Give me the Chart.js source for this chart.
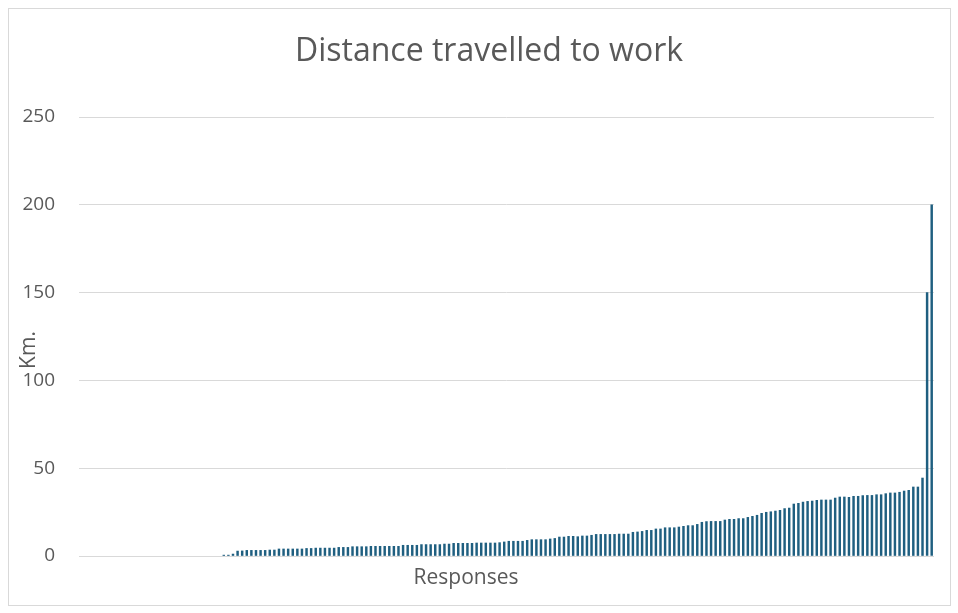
<!DOCTYPE html>
<html>
<head>
<meta charset="utf-8">
<script src="https://cdn.jsdelivr.net/npm/chart.js@4.4.1/dist/chart.umd.min.js"></script>
<style>
  html, body { margin: 0; padding: 0; background: #ffffff; }
  #wrap { width: 958px; height: 613px; position: relative; }
</style>
</head>
<body>
<div id="wrap"><canvas id="c" width="958" height="613"></canvas></div>
<script>
// Distance (km) reported by each respondent, sorted ascending
const zeroResponses = [0,0,0,0,0,0,0,0,0,0,0,0,0,0,0,0,0,0,0,0,0,0,0,0,0,0,0,0,0,0,0];
const distancesKm = [
  0.5, 0.5, 1.1, 2.8, 2.9, 3.2, 3.2, 3.2, 3.2, 3.2, 3.4, 3.4, 4.0, 4.0, 4.0, 4.0, 4.0, 4.0, 4.3, 4.3, 4.5, 4.5, 4.5, 4.5, 4.5,
  4.9, 4.9, 4.9, 5.3, 5.3, 5.3, 5.3, 5.5, 5.5, 5.5, 5.5, 5.5, 5.5, 5.5, 6.1, 6.1, 6.1, 6.1, 6.5, 6.5, 6.5, 6.5, 6.5, 6.8, 6.8, 7.2,
  7.2, 7.2, 7.2, 7.2, 7.4, 7.4, 7.4, 7.4, 7.4, 7.6, 8.0, 8.4, 8.4, 8.4, 8.4, 8.9, 9.3, 9.3, 9.3, 9.3, 9.7, 10.0, 10.8, 10.8, 11.2, 11.2,
  11.0, 11.4, 11.4, 11.8, 12.3, 12.3, 12.3, 12.3, 12.3, 12.5, 12.5, 12.5, 13.5, 13.7, 14.0, 14.6, 14.6, 15.4, 15.4, 16.1, 16.1, 16.1, 16.5, 16.9, 17.3,
  17.3, 18.0, 19.2, 19.6, 19.7, 19.7, 19.7, 20.5, 20.9, 20.9, 21.3, 21.3, 22.0, 22.6, 23.2, 24.3, 24.9, 25.2, 25.6, 26.0, 27.0, 27.3, 29.6, 30.0, 30.7, 31.1,
  31.3, 31.7, 31.9, 31.9, 31.9, 33.0, 33.6, 33.6, 33.4, 34.0, 34.0, 34.4, 34.5, 34.5, 34.9, 34.9, 35.5, 35.9, 35.9, 36.3, 37.0, 37.4, 39.3, 39.3, 44.4, 150, 200
];
const values = zeroResponses.concat(distancesKm);
const responseLabels = values.map((_, i) => String(i + 1));
const yTicks = [0, 50, 100, 150, 200, 250];

const chartTitle = 'Distance travelled to work';
const xTitle = 'Responses';
const yTitle = 'Km.';

const textColor = '#595959';
const gridColor = '#d9d9d9';
const barColor = '#1f5f80';
const fontFamily = '"Open Sans", "DejaVu Sans", sans-serif';

// White background, outer frame, chart title and the two axis titles
const decorations = {
  id: 'decorations',
  beforeDraw(chart) {
    const ctx = chart.ctx;
    ctx.save();
    ctx.fillStyle = '#ffffff';
    ctx.fillRect(0, 0, chart.width, chart.height);
    ctx.strokeStyle = gridColor;
    ctx.lineWidth = 1;
    ctx.strokeRect(8.5, 8.5, 942, 597);
    ctx.restore();
  },
  afterDraw(chart) {
    const ctx = chart.ctx;
    ctx.save();
    ctx.fillStyle = textColor;
    ctx.textAlign = 'center';
    ctx.textBaseline = 'middle';
    ctx.font = '21px ' + fontFamily;
    ctx.fillText(xTitle, 466, 578);
    ctx.translate(29, 350);
    ctx.rotate(-Math.PI / 2);
    ctx.fillText(yTitle, 0, 0);
    ctx.restore();

    ctx.save();
    ctx.fillStyle = textColor;
    ctx.textAlign = 'center';
    ctx.textBaseline = 'middle';
    ctx.font = '32px ' + fontFamily;
    ctx.fillText(chartTitle, 489, 52);
    ctx.restore();
  }
};

new Chart(document.getElementById('c'), {
  type: 'bar',
  data: {
    labels: responseLabels,
    datasets: [{
      data: values,
      // zero answers leave an empty slot
      backgroundColor: ctx => (ctx.raw === 0 ? 'rgba(0,0,0,0)' : barColor),
      borderWidth: 0,
      barThickness: 1.8
    }]
  },
  options: {
    responsive: false,
    animation: false,
    devicePixelRatio: 1,
    layout: { padding: { left: 0, right: 24, top: 117, bottom: 57 } },
    plugins: {
      legend: { display: false },
      title: { display: false },
      tooltip: { enabled: false }
    },
    scales: {
      x: {
        display: false,
        offset: true,
        grid: { display: false }
      },
      y: {
        min: 0,
        max: 250,
        afterFit(scale) { scale.width = 79; },
        afterBuildTicks(scale) { scale.ticks = yTicks.map(v => ({ value: v })); },
        border: { display: false },
        grid: { color: gridColor, lineWidth: 1, drawTicks: false },
        ticks: {
          padding: 24,
          color: textColor,
          font: { family: fontFamily, size: 19 }
        }
      }
    }
  },
  plugins: [decorations]
});
</script>
</body>
</html>
